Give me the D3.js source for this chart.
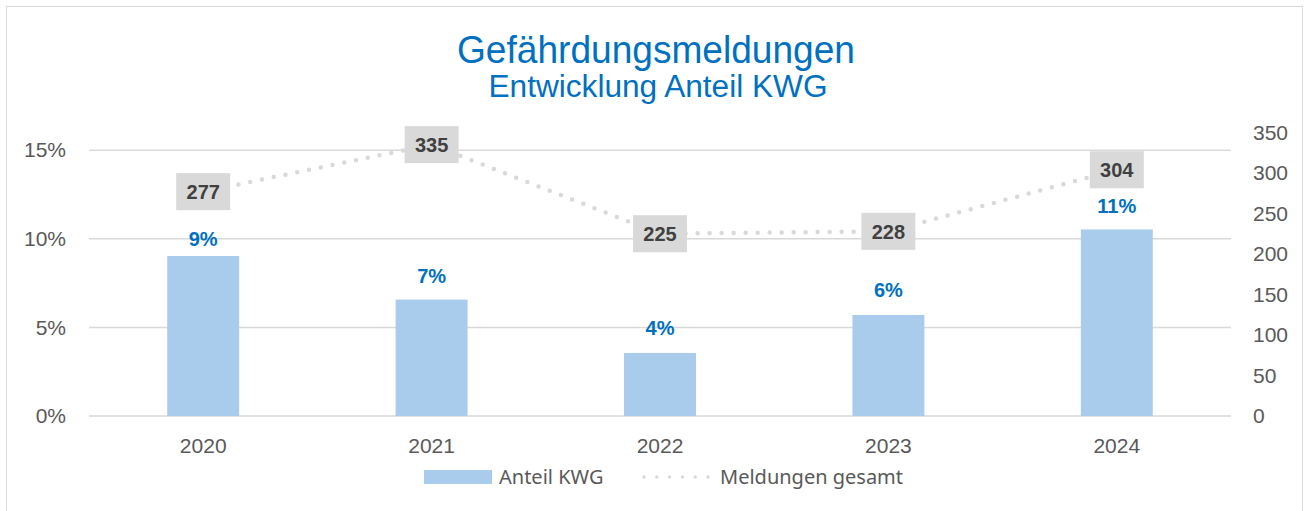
<!DOCTYPE html>
<html>
<head>
<meta charset="utf-8">
<script src="https://cdn.jsdelivr.net/npm/d3@7"></script>
<style>
  body { margin: 0; background: #fff; }
  svg { display: block; }
</style>
</head>
<body>
<svg id="viz" width="1309" height="511"></svg>
<script>
/* Gefährdungsmeldungen – bar (Anteil KWG) + dotted line (Meldungen gesamt) */

const years      = ["2020", "2021", "2022", "2023", "2024"];
const anteilKWG  = [0.0903, 0.0657, 0.0356, 0.0570, 0.1053];
const meldungen  = [277, 335, 225, 228, 304];
const leftTicks  = [0, 0.05, 0.10, 0.15];
const rightTicks = [0, 50, 100, 150, 200, 250, 300, 350];

const W = 1309, H = 511;
const plot = { left: 89, right: 1231, top: 132.5, bottom: 416 };

const svg = d3.select("#viz");

// chart frame
svg.append("rect")
  .attr("x", 6.5).attr("y", 6.5)
  .attr("width", W - 13).attr("height", H)
  .attr("fill", "#fff").attr("stroke", "#d9d9d9");

/* -- Scales ------------------------------------------------------------ */
const x  = d3.scaleBand().domain(years).range([plot.left, plot.right]).padding(0);
const yL = d3.scaleLinear().domain([0, 0.16]).range([plot.bottom, plot.top]);
const yR = d3.scaleLinear().domain([0, 350]).range([plot.bottom, plot.top]);
const barW = x.bandwidth() * 0.315;

/* -- Gridlines --------------------------------------------------------- */
svg.append("g").selectAll("line")
  .data(leftTicks)
  .join("line")
    .attr("x1", plot.left).attr("x2", plot.right)
    .attr("y1", d => yL(d)).attr("y2", d => yL(d))
    .attr("stroke", "#d9d9d9").attr("stroke-width", 1.5);

/* -- Axes -------------------------------------------------------------- */
const axisFont = "'Liberation Sans', Arial, sans-serif";

const gL = svg.append("g")
  .attr("transform", `translate(${plot.left - 23},0)`)
  .call(d3.axisLeft(yL).tickValues(leftTicks).tickFormat(d3.format(".0%")).tickSize(0).tickPadding(0));
const gR = svg.append("g")
  .attr("transform", `translate(${plot.right + 22},0)`)
  .call(d3.axisRight(yR).tickValues(rightTicks).tickSize(0).tickPadding(0));
const gX = svg.append("g")
  .attr("transform", `translate(0,${plot.bottom + 22})`)
  .call(d3.axisBottom(x).tickSize(0).tickPadding(0));

[gL, gR, gX].forEach(g => {
  g.select(".domain").remove();
  g.selectAll("text")
    .attr("fill", "#595959")
    .attr("font-family", axisFont)
    .attr("font-size", 21);
});
gX.selectAll("text").attr("dy", "0.71em");

/* -- Bars -------------------------------------------------------------- */
const cx = d => x(d) + x.bandwidth() / 2;

svg.append("g").selectAll("rect")
  .data(years)
  .join("rect")
    .attr("x", d => cx(d) - barW / 2)
    .attr("y", (d, i) => yL(anteilKWG[i]))
    .attr("width", barW)
    .attr("height", (d, i) => plot.bottom - yL(anteilKWG[i]))
    .attr("fill", "#a9cbec");

// gap between bar top and label baseline (first label sits lower, below the 277 box)
const barLabelGap = [10, 17, 18, 18, 16];

svg.append("g").selectAll("text")
  .data(years)
  .join("text")
    .attr("x", d => cx(d))
    .attr("y", (d, i) => yL(anteilKWG[i]) - barLabelGap[i])
    .attr("text-anchor", "middle")
    .attr("font-family", axisFont)
    .attr("font-weight", "bold")
    .attr("font-size", 20)
    .attr("fill", "#0070c0")
    .text((d, i) => d3.format(".0%")(anteilKWG[i]));

/* -- Line -------------------------------------------------------------- */
const line = d3.line()
  .x(d => cx(d.year))
  .y(d => yR(d.v));

const pts = years.map((y, i) => ({ year: y, v: meldungen[i] }));

svg.append("path")
  .datum(pts)
  .attr("d", line)
  .attr("fill", "none")
  .attr("stroke", "#d9d9d9")
  .attr("stroke-width", 4.5)
  .attr("stroke-linecap", "round")
  .attr("stroke-dasharray", "0 12");

// line labels in grey boxes
const lbl = svg.append("g").selectAll("g")
  .data(pts)
  .join("g")
    .attr("transform", d => `translate(${cx(d.year)},${yR(d.v)})`);

lbl.append("rect")
  .attr("x", -27).attr("y", -18.5)
  .attr("width", 54).attr("height", 37)
  .attr("fill", "#d9d9d9");

lbl.append("text")
  .attr("text-anchor", "middle")
  .attr("dy", "0.36em")
  .attr("font-family", axisFont)
  .attr("font-weight", "bold")
  .attr("font-size", 20)
  .attr("fill", "#404040")
  .text(d => d.v);

/* -- Title ------------------------------------------------------------- */
svg.append("text")
  .attr("x", 656).attr("y", 63)
  .attr("text-anchor", "middle")
  .attr("font-family", axisFont)
  .attr("font-size", 39)
  .attr("textLength", 398)
  .attr("lengthAdjust", "spacingAndGlyphs")
  .attr("fill", "#0070c0")
  .text("Gefährdungsmeldungen");

svg.append("text")
  .attr("x", 658).attr("y", 97)
  .attr("text-anchor", "middle")
  .attr("font-family", axisFont)
  .attr("font-size", 31)
  .attr("textLength", 339)
  .attr("lengthAdjust", "spacingAndGlyphs")
  .attr("fill", "#0070c0")
  .text("Entwicklung Anteil KWG");

/* -- Legend ------------------------------------------------------------ */
const legendFont = "'Noto Sans', 'Open Sans', sans-serif";
const lg = svg.append("g").attr("transform", "translate(0,477)");

lg.append("rect")
  .attr("x", 424).attr("y", -7)
  .attr("width", 68).attr("height", 14)
  .attr("fill", "#a9cbec");
lg.append("text")
  .attr("x", 499).attr("dy", "0.35em")
  .attr("font-family", legendFont).attr("font-size", 20)
  .attr("fill", "#595959")
  .text("Anteil KWG");

lg.append("line")
  .attr("x1", 644).attr("x2", 709)
  .attr("stroke", "#d9d9d9").attr("stroke-width", 3.5)
  .attr("stroke-linecap", "round").attr("stroke-dasharray", "0 12.8");
lg.append("text")
  .attr("x", 720).attr("dy", "0.35em")
  .attr("font-family", legendFont).attr("font-size", 20)
  .attr("fill", "#595959")
  .text("Meldungen gesamt");
</script>
</body>
</html>
